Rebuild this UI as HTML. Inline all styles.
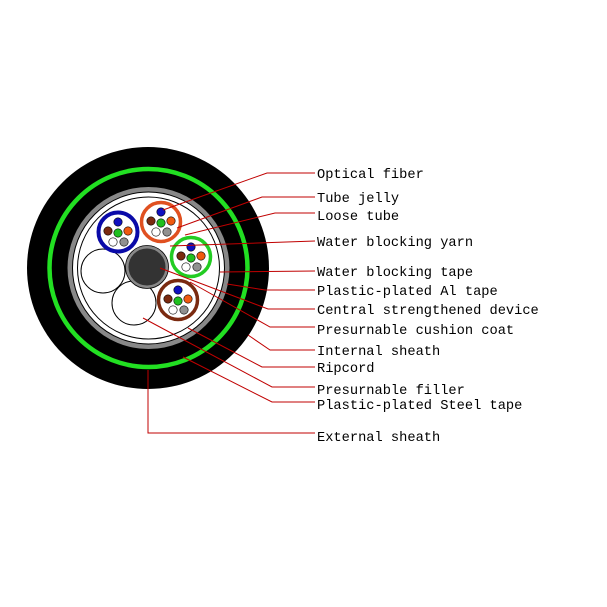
<!DOCTYPE html>
<html><head><style>
html,body{margin:0;padding:0;background:#fff;}
svg{display:block}
text{font-family:"Liberation Mono",monospace;font-size:13.7px;fill:#000}
</style></head><body>
<svg width="607" height="607" viewBox="0 0 607 607" xmlns="http://www.w3.org/2000/svg">
<defs>
<g id="fib">
<circle cx="0" cy="-10" r="4.2" fill="#1010c0" stroke="#000" stroke-width=".6"/>
<circle cx="-10" cy="-1" r="4.2" fill="#7a2a10" stroke="#000" stroke-width=".6"/>
<circle cx="0" cy="1" r="4.2" fill="#20c020" stroke="#000" stroke-width=".6"/>
<circle cx="10" cy="-1" r="4.2" fill="#f05a10" stroke="#000" stroke-width=".6"/>
<circle cx="-5" cy="10" r="4.2" fill="#fff" stroke="#000" stroke-width=".6"/>
<circle cx="6" cy="10" r="4.2" fill="#909090" stroke="#000" stroke-width=".6"/>
</g>
</defs>
<circle cx="148" cy="268" r="121" fill="#000"/>
<circle cx="148.5" cy="268" r="99" fill="none" stroke="#22e022" stroke-width="4.5"/>
<circle cx="148.5" cy="268" r="81" fill="#888"/>
<circle cx="148.5" cy="268" r="76" fill="#fff" stroke="#000" stroke-width="1"/>
<circle cx="148.5" cy="268" r="71" fill="#fff" stroke="#000" stroke-width="1"/>
<circle cx="103" cy="271" r="22" fill="#fff" stroke="#000" stroke-width="1"/>
<circle cx="134" cy="303" r="22" fill="#fff" stroke="#000" stroke-width="1"/>
<circle cx="147" cy="267" r="20" fill="#333" stroke="#888" stroke-width="3"/>
<circle cx="147" cy="267" r="21.5" fill="none" stroke="#000" stroke-width=".8"/>
<circle cx="118" cy="232" r="19.5" fill="#fff" stroke="#0a0aa8" stroke-width="4"/>
<use href="#fib" x="118" y="232"/>
<circle cx="161" cy="222" r="19.5" fill="#fff" stroke="#e05020" stroke-width="3.5"/>
<use href="#fib" x="161" y="222"/>
<circle cx="191" cy="257" r="19.5" fill="#fff" stroke="#22cc22" stroke-width="3.5"/>
<use href="#fib" x="191" y="257"/>
<circle cx="178" cy="300" r="19.5" fill="#fff" stroke="#7a2a10" stroke-width="3.5"/>
<use href="#fib" x="178" y="300"/>
<g fill="none" stroke="#c00000" stroke-width="1">
<polyline points="163,210 267,173 315,173"/>
<polyline points="177,228 262,197 315,197"/>
<polyline points="185,235 275,213 315,213"/>
<polyline points="170,246 315,241"/>
<polyline points="220,272 315,271"/>
<polyline points="227,284 265,290 315,290"/>
<polyline points="160,268 268,309 315,309"/>
<polyline points="190,282 270,327 315,327"/>
<polyline points="248,335 270,350 315,350"/>
<polyline points="188,328 262,367 315,367"/>
<polyline points="143,318 272,387 315,387"/>
<polyline points="183,357 272,402 315,402"/>
<polyline points="148,370 148,433 315,433"/>
</g>
<text x="317" y="178">Optical fiber</text>
<text x="317" y="202">Tube jelly</text>
<text x="317" y="220">Loose tube</text>
<text x="317" y="246">Water blocking yarn</text>
<text x="317" y="276">Water blocking tape</text>
<text x="317" y="295">Plastic-plated Al tape</text>
<text x="317" y="314">Central strengthened device</text>
<text x="317" y="334">Presurnable cushion coat</text>
<text x="317" y="355">Internal sheath</text>
<text x="317" y="372">Ripcord</text>
<text x="317" y="394">Presurnable filler</text>
<text x="317" y="409">Plastic-plated Steel tape</text>
<text x="317" y="441">External sheath</text>
</svg>
</body></html>
